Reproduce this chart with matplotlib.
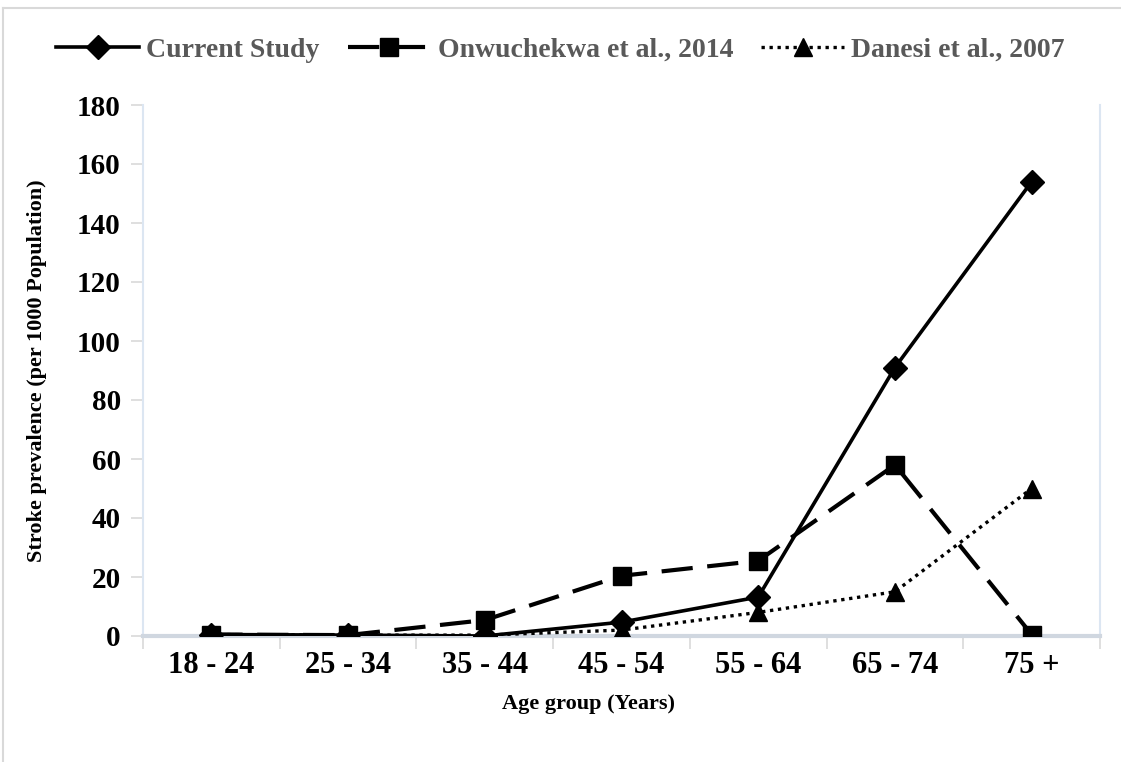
import matplotlib
matplotlib.use("Agg")
import matplotlib.pyplot as plt
from matplotlib.lines import Line2D
import numpy as np

categories = ["18 - 24", "25 - 34", "35 - 44", "45 - 54", "55 - 64", "65 - 74", "75 +"]
current_study = [0.5, 0.3, 0.0, 4.7, 13.2, 91.0, 154.0]
onwuchekwa = [0.5, 0.3, 5.4, 20.4, 25.5, 58.0, 0.5]
danesi = [0.5, 0.3, 0.3, 2.0, 8.0, 15.0, 50.0]
yticks = [0, 20, 40, 60, 80, 100, 120, 140, 160, 180]

plt.rcParams['font.family'] = ['Liberation Serif', 'DejaVu Serif']

fig = plt.figure(figsize=(11.21, 7.62), dpi=100)
ax = fig.add_axes([143/1121, 1-636/762, (1100-143)/1121, (636-105)/762])

x = np.arange(len(categories))
l1, = ax.plot(x, current_study, color='black', lw=2.6, ls='-', marker='D', ms=12,
              label='Current Study', zorder=4)
l2, = ax.plot(x, onwuchekwa, color='black', lw=3.0, ls=(0, (7.5, 3.5)), marker='s', ms=13,
              label='Onwuchekwa et al., 2014', zorder=3)
l3, = ax.plot(x, danesi, color='black', lw=2.4, ls=(0, (1, 1.4)), marker='^', ms=13,
              label='Danesi et al., 2007', zorder=5)

ax.set_xlim(-0.5, len(categories) - 0.5)
ax.set_ylim(0, 180)
ax.set_yticks(yticks)
ax.set_yticklabels([str(v) for v in yticks], fontsize=21, fontweight='bold')
ax.set_xticks(x)
ax.set_xticklabels(categories, fontsize=22, fontweight='bold')
ax.set_xticks(np.arange(-0.5, len(categories)), minor=True)
ax.tick_params(axis='x', which='major', length=0, pad=11)
ax.tick_params(axis='x', which='minor', length=9, width=1.2, color='#D9D9D9')
ax.tick_params(axis='y', which='major', length=9, width=1.2, color='#D9D9D9', pad=7)

ax.spines['top'].set_visible(False)
ax.spines['left'].set_color('#DCE6F2')
ax.spines['left'].set_linewidth(1.5)
ax.spines['right'].set_color('#DCE6F2')
ax.spines['right'].set_linewidth(1.5)
ax.spines['bottom'].set_color('#D0D7E0')
ax.spines['bottom'].set_linewidth(3)

ax.set_xlabel('Age group (Years)', fontsize=16, fontweight='bold')
ax.xaxis.set_label_coords((589-143)/(1100-143), -0.11)
ax.set_ylabel('Stroke prevalence (per 1000 Population)', fontsize=16, fontweight='bold')
ax.yaxis.set_label_coords(-0.1, 0.5)

leg = fig.legend(handles=[l1, l2, l3], loc='center', bbox_to_anchor=(0.5, 1-50/762),
                 ncol=3, frameon=False, handlelength=3.0, columnspacing=1.0,
                 handletextpad=0.25, prop={'weight': 'bold', 'size': 20})
for t in leg.get_texts():
    t.set_color('#595959')

# outer frame
fig.add_artist(Line2D([3/1121, 1], [1-8/762, 1-8/762], color='#D9D9D9', lw=1.5,
                      transform=fig.transFigure))
fig.add_artist(Line2D([3/1121, 3/1121], [0, 1-8/762], color='#D9D9D9', lw=1.5,
                      transform=fig.transFigure))

fig.savefig('out.png', dpi=100)
